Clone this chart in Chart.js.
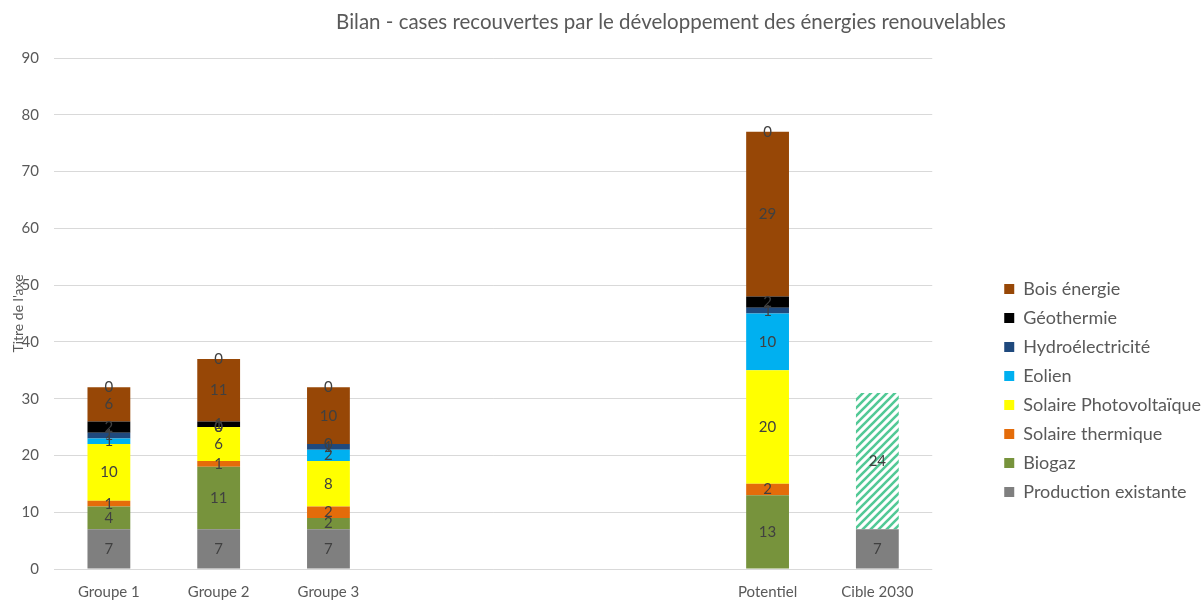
<!DOCTYPE html>
<html>
<head>
<meta charset="utf-8">
<script src="https://cdn.jsdelivr.net/npm/chart.js@4.4.1/dist/chart.umd.min.js"></script>
<style>
  body { margin: 0; background: #fff; }
  #wrap { width: 1204px; height: 601px; position: relative; }
</style>
</head>
<body>
<div id="wrap"><canvas id="canvas"></canvas></div>
<script>
var chartTitle = 'Bilan - cases recouvertes par le développement des énergies renouvelables';
var axisTitle = "Titre de l'axe";
var categories = ['Groupe 1', 'Groupe 2', 'Groupe 3', '', '', '', 'Potentiel', 'Cible 2030'];
var yTicks = [0, 10, 20, 30, 40, 50, 60, 70, 80, 90];

var productionExistante = [7, 7, 7, null, null, null, null, 7];
var biogaz = [4, 11, 2, null, null, null, 13, null];
var solaireThermique = [1, 1, 2, null, null, null, 2, null];
var solairePV = [10, 6, 8, null, null, null, 20, null];
var eolien = [1, 0, 2, null, null, null, 10, null];
var hydro = [1, 0, 1, null, null, null, 1, null];
var geothermie = [2, 1, 0, null, null, null, 2, null];
var boisEnergie = [6, 11, 10, null, null, null, 29, null];
var cible = [0, 0, 0, null, null, null, 0, 24];

var FONT = 'Lato';
var TEXT = '#595959';

function hatch() {
  var c = document.createElement('canvas');
  c.width = 8; c.height = 8;
  var g = c.getContext('2d');
  g.fillStyle = '#fff';
  g.fillRect(0, 0, 8, 8);
  g.strokeStyle = '#52c996';
  g.lineWidth = 2.6;
  g.beginPath();
  g.moveTo(-2, 10); g.lineTo(10, -2);
  g.moveTo(-6, 6); g.lineTo(6, -6);
  g.moveTo(2, 14); g.lineTo(14, 2);
  g.stroke();
  return g.createPattern(c, 'repeat');
}

var titlePlugin = {
  id: 'bigTitle',
  afterDraw: function(chart) {
    var ctx = chart.ctx;
    ctx.save();
    ctx.font = '20.5px ' + FONT;
    ctx.fillStyle = TEXT;
    ctx.textAlign = 'center';
    ctx.textBaseline = 'middle';
    ctx.fillText(chartTitle, 671, 22);
    ctx.restore();
  }
};

var labelPlugin = {
  id: 'barLabels',
  afterDatasetsDraw: function(chart) {
    var ctx = chart.ctx;
    ctx.save();
    ctx.font = '15px ' + FONT;
    ctx.fillStyle = '#404040';
    ctx.textAlign = 'center';
    ctx.textBaseline = 'middle';
    chart.data.datasets.forEach(function(ds, d) {
      var meta = chart.getDatasetMeta(d);
      meta.data.forEach(function(bar, i) {
        var v = ds.data[i];
        if (v === null) return;
        ctx.fillText(String(v), bar.x, (bar.y + bar.base) / 2);
      });
    });
    ctx.restore();
  }
};

function init() {
  var series = [
    ['Production existante', productionExistante, '#7f7f7f'],
    ['Biogaz', biogaz, '#77933c'],
    ['Solaire thermique', solaireThermique, '#e46c0a'],
    ['Solaire Photovoltaïque', solairePV, '#ffff00'],
    ['Eolien', eolien, '#00b0f0'],
    ['Hydroélectricité', hydro, '#1f497d'],
    ['Géothermie', geothermie, '#000000'],
    ['Bois énergie', boisEnergie, '#974706'],
    ['Cible', cible, hatch()]
  ];
  var datasets = series.map(function(s) {
    return {
      label: s[0],
      data: s[1],
      backgroundColor: s[2],
      borderWidth: 0,
      barPercentage: 0.39,
      categoryPercentage: 1
    };
  });

  var ctx = document.getElementById('canvas').getContext('2d');
  window.myBar = new Chart(ctx, {
    type: 'bar',
    data: { labels: categories, datasets: datasets },
    plugins: [titlePlugin, labelPlugin],
    options: {
      responsive: true,
      maintainAspectRatio: false,
      animation: false,
      layout: { padding: { top: 58, left: 0, right: -7, bottom: 0 } },
      plugins: {
        tooltip: { enabled: false },
        title: { display: false },
        legend: {
          position: 'right',
          align: 'start',
          reverse: true,
          maxWidth: 300,
          title: { display: true, text: ' ', font: { size: 10 }, padding: { top: 199, bottom: 0 } },
          labels: {
            boxWidth: 10,
            boxHeight: 10,
            padding: 11,
            color: TEXT,
            font: { family: FONT, size: 18 },
            filter: function(item) { return item.text !== 'Cible'; }
          }
        }
      },
      scales: {
        x: {
          stacked: true,
          afterFit: function(scale) { scale.height = 32; },
          grid: { display: false, drawTicks: false },
          border: { display: false },
          ticks: { color: TEXT, font: { family: FONT, size: 15 }, padding: 14, maxRotation: 0, autoSkip: false }
        },
        y: {
          stacked: true,
          min: 0,
          max: 90,
          afterBuildTicks: function(scale) {
            scale.ticks = yTicks.map(function(v) { return { value: v }; });
          },
          afterFit: function(scale) { scale.width = 54; },
          grid: { color: '#d9d9d9', drawTicks: false },
          border: { display: false },
          ticks: { color: TEXT, font: { family: FONT, size: 15 }, padding: 15 },
          title: { display: true, text: axisTitle, color: TEXT, font: { family: FONT, size: 14 }, padding: { top: 10, bottom: 0 } }
        },
        spacer: {
          position: 'right',
          display: true,
          grid: { display: false },
          border: { display: false },
          ticks: { display: false },
          afterFit: function(scale) { scale.width = 61; }
        }
      }
    }
  });
}

window.onload = init;
</script>
</body>
</html>
